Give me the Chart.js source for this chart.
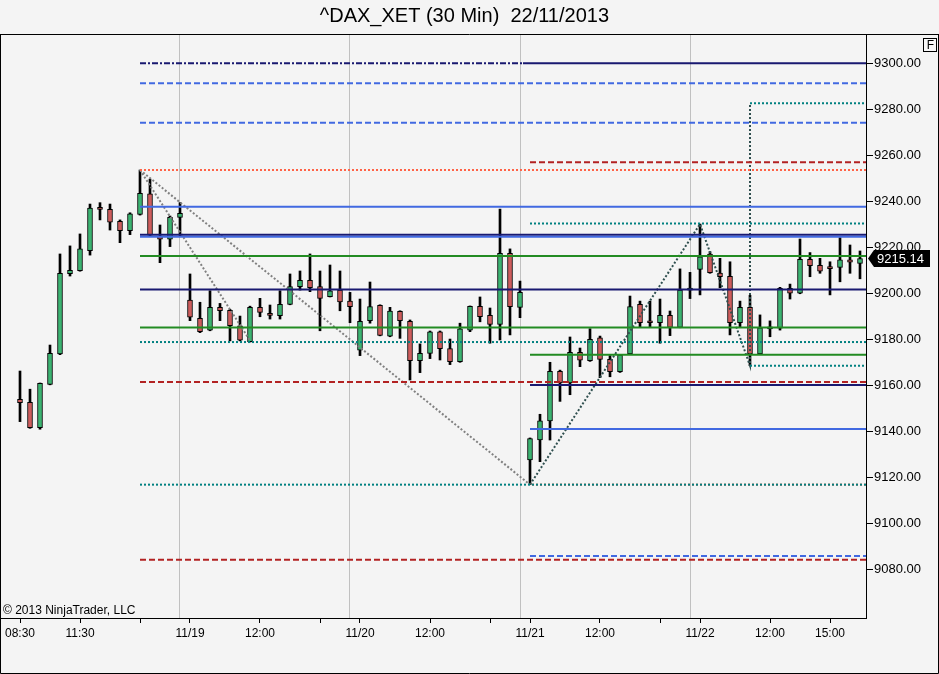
<!DOCTYPE html>
<html lang="en">
<head>
    <meta charset="UTF-8">
    <title>^DAX_XET (30 Min)</title>
    <script src="https://cdn.jsdelivr.net/npm/chart.js"></script>
    <style>
        html, body {
            margin: 0;
            padding: 0;
            background: #f4f4f4;
        }
        #wrap {
            width: 939px;
            height: 674px;
        }
    </style>
</head>
<body>

<div id="wrap"><canvas id="daxChart" width="939" height="674"></canvas></div>

<script>
    // 30 min bars, 18/11 08:30 -> 22/11 afternoon
    const opens = [
        9153.9, 9152.6, 9141.6, 9160.4, 9173.6, 9208.5, 9209.8, 9218.5, 9237.4, 9236.5,
        9231.3, 9227.2, 9234.3, 9243.2, 9224.9, 9223.5, 9233.0, 9197.0, 9189.1, 9184.0,
        9193.9, 9192.6, 9185.9, 9179.0, 9193.9, 9191.3, 9190.3, 9195.2, 9202.9, 9205.6,
        9202.9, 9198.5, 9201.4, 9196.6, 9175.3, 9188.1, 9194.8, 9181.4, 9192.2, 9187.8,
        9170.7, 9173.9, 9183.2, 9176.0, 9170.3, 9184.0, 9194.3, 9190.4, 9186.5, 9217.4,
        9193.9, 9127.5, 9136.2, 9144.5, 9166.1, 9161.0, 9174.3, 9170.7, 9180.6, 9171.3,
        9165.9, 9173.6, 9195.2, 9187.5, 9187.2, 9190.4, 9185.2, 9201.4, 9210.4, 9217.0,
        9208.8, 9207.4, 9187.2, 9193.9, 9173.6, 9184.5, 9184.8, 9202.2, 9200.0, 9214.8,
        9212.2, 9210.9, 9211.3, 9214.5, 9213.0
    ];
    const highs = [
        9166.2, 9158.3, 9161.0, 9177.5, 9217.1, 9220.6, 9225.8, 9238.8, 9239.4, 9238.8,
        9231.9, 9235.0, 9253.6, 9249.6, 9229.7, 9233.6, 9239.4, 9208.4, 9196.1, 9201.1,
        9195.6, 9193.0, 9190.1, 9194.4, 9197.8, 9194.9, 9201.1, 9208.4, 9209.7, 9217.1,
        9209.7, 9212.3, 9209.7, 9200.4, 9197.5, 9204.9, 9195.0, 9193.9, 9192.4, 9188.4,
        9178.0, 9183.6, 9183.6, 9180.1, 9187.0, 9194.5, 9198.4, 9193.6, 9236.6, 9219.3,
        9205.3, 9137.1, 9147.4, 9170.0, 9166.6, 9181.0, 9176.2, 9184.6, 9181.4, 9172.9,
        9173.4, 9198.8, 9196.6, 9196.6, 9197.5, 9192.3, 9210.6, 9209.1, 9230.1, 9218.1,
        9215.2, 9213.7, 9196.6, 9199.1, 9190.6, 9188.0, 9202.6, 9204.0, 9223.6, 9217.7,
        9215.2, 9213.7, 9224.2, 9221.0, 9218.4
    ];
    const lows = [
        9144.2, 9141.3, 9140.9, 9160.2, 9173.3, 9207.5, 9209.6, 9216.6, 9231.9, 9227.5,
        9222.0, 9225.5, 9234.0, 9225.0, 9213.3, 9220.3, 9224.9, 9188.1, 9182.9, 9183.7,
        9188.1, 9179.3, 9179.3, 9178.8, 9189.8, 9188.8, 9188.8, 9195.0, 9201.4, 9200.7,
        9183.7, 9198.4, 9192.4, 9187.2, 9172.9, 9187.0, 9181.5, 9181.1, 9180.4, 9162.3,
        9165.5, 9171.6, 9171.0, 9169.0, 9170.0, 9183.3, 9187.6, 9178.3, 9179.7, 9181.9,
        9189.4, 9116.8, 9126.8, 9136.2, 9153.0, 9155.9, 9168.1, 9170.4, 9163.3, 9163.7,
        9165.6, 9173.5, 9185.5, 9185.5, 9178.3, 9181.6, 9185.0, 9197.7, 9199.3, 9208.7,
        9202.4, 9181.9, 9185.5, 9168.5, 9173.5, 9181.1, 9184.0, 9197.5, 9199.8, 9207.2,
        9208.7, 9199.3, 9205.0, 9208.7, 9206.3
    ];
    const closes = [
        9152.4, 9141.6, 9160.9, 9173.9, 9208.7, 9210.0, 9219.3, 9237.1, 9236.5, 9230.9,
        9227.2, 9234.5, 9243.5, 9225.3, 9223.5, 9233.0, 9234.8, 9189.6, 9183.3, 9193.9,
        9192.4, 9185.9, 9179.6, 9193.9, 9191.7, 9190.4, 9195.2, 9202.9, 9205.6, 9202.4,
        9197.8, 9201.1, 9196.3, 9194.2, 9187.8, 9194.2, 9181.7, 9192.3, 9188.1, 9170.7,
        9173.9, 9183.2, 9175.9, 9170.3, 9184.6, 9194.3, 9189.8, 9186.5, 9217.4, 9194.2,
        9200.4, 9136.8, 9144.5, 9166.1, 9161.0, 9174.3, 9170.9, 9180.0, 9171.3, 9165.9,
        9173.2, 9194.2, 9187.2, 9187.2, 9190.4, 9185.2, 9201.4, 9201.6, 9215.9, 9209.0,
        9207.2, 9187.2, 9193.9, 9173.6, 9185.0, 9184.8, 9202.2, 9200.0, 9214.8, 9212.0,
        9209.6, 9210.7, 9214.5, 9213.5, 9215.14
    ];

    // bottom axis: bar index -> label ('' = tick mark only)
    const timeTickIdx = [0, 6, 12, 17, 24, 30, 34, 41, 47, 51, 58, 64, 68, 75, 81];
    const timeTickText = ['08:30', '11:30', '', '11/19', '12:00', '', '11/20', '12:00', '', '11/21', '12:00', '', '11/22', '12:00', '15:00'];
    const dayBreakIdx = [16, 33, 50, 67];
    const priceTicks = [9080, 9100, 9120, 9140, 9160, 9180, 9200, 9220, 9240, 9260, 9280, 9300];

    // horizontal drawing objects: price, first bar, last bar (null = right edge)
    const levelValues = [9300, 9300, 9291.3, 9282.6, 9274.2, 9257.0, 9253.6, 9237.6, 9230.3, 9224.6, 9225.5, 9216.2,
                         9201.7, 9185.1, 9178.8, 9173.3, 9168.5, 9161.4, 9160.1, 9141.0, 9116.8, 9116.8, 9085.8, 9084.2];
    const levelFrom = [12, 50.3, 12, 73, 12, 51, 12, 12, 51, 12, 12, 12,
                       12, 12, 12, 51, 73, 12, 51, 51, 12, 51, 51, 12];
    const levelTo = [50.3, null, null, null, null, null, null, null, null, null, null, null,
                     null, null, null, null, null, null, null, null, null, null, null, null];

    // swing lines
    const swingX = [51, 68, 73, 73];
    const swingY = [9116.8, 9230.1, 9168.5, 9282.6];
    const fallX = [12, 51];
    const fallY = [9253.6, 9116.8];
    const dropX = [12, 23];
    const dropY = [9253.6, 9179.5];

    // ---- styles ----
    const NAVY = '#191970', BLUE = '#4169e1', RED = '#b22222', SALMON = '#ff6347',
          TEAL = '#008080', GREEN = '#228b22', SLATE = '#2f4f4f';
    const SOLID = [], DASH = [6, 3], DOT = [2, 2], DASHDOT = [6, 2, 2, 2];
    const levelStyles = [
        [NAVY, DASHDOT, 2], [NAVY, SOLID, 2], [BLUE, DASH, 2], [TEAL, DOT, 2], [BLUE, DASH, 2],
        [RED, DASH, 2], [SALMON, DOT, 2], [BLUE, SOLID, 2], [TEAL, DOT, 2], [BLUE, SOLID, 2],
        [NAVY, SOLID, 2], [GREEN, SOLID, 2], [NAVY, SOLID, 2], [GREEN, SOLID, 2], [TEAL, DOT, 2],
        [GREEN, SOLID, 2], [TEAL, DOT, 2], [RED, DASH, 2], [NAVY, SOLID, 2], [BLUE, SOLID, 2],
        [TEAL, DOT, 2], [SALMON, DOT, 2, 2], [BLUE, DASH, 2], [RED, DASH, 2]
    ];

    const X_MIN = -1.9, X_MAX = 84.6;
    const Y_MIN = 9058.82, Y_MAX = 9312.3;

    const idx = closes.map((c, i) => i);

    const wicks = {
        type: 'bar',
        order: 2,
        data: idx.map(i => ({ x: i, y: [lows[i], highs[i]] })),
        backgroundColor: '#000',
        borderWidth: 0,
        barThickness: 2,
        grouped: false
    };

    const bodies = {
        type: 'bar',
        order: 1,
        data: idx.map(i => ({ x: i, y: [opens[i], closes[i]] })),
        backgroundColor: idx.map(i => closes[i] >= opens[i] ? '#3cb371' : '#cd5c5c'),
        borderColor: '#000',
        borderWidth: 1,
        borderSkipped: false,
        barThickness: 5,
        minBarLength: 2,
        grouped: false
    };

    function lineSet(xs, ys, color, dash, width, dashOffset) {
        return {
            type: 'line',
            order: 0,
            data: xs.map((x, k) => ({ x: x, y: ys[k] })),
            borderColor: color,
            borderDash: dash,
            borderDashOffset: dashOffset || 0,
            borderWidth: width,
            pointRadius: 0,
            fill: false,
            tension: 0
        };
    }

    const levelSets = levelValues.map((v, k) => {
        const st = levelStyles[k];
        const to = levelTo[k] === null ? X_MAX : levelTo[k];
        return lineSet([levelFrom[k], to], [v, v], st[0], st[1], st[2], st[3]);
    });

    const swingSets = [
        lineSet(fallX, fallY, '#808080', DOT, 2),
        lineSet(dropX, dropY, '#808080', DOT, 2),
        lineSet(swingX, swingY, SLATE, DOT, 2)
    ];

    // background, outer frame, copyright, F box
    const frame = {
        id: 'frame',
        beforeDraw(chart) {
            const ctx = chart.ctx;
            ctx.save();
            ctx.fillStyle = '#f4f4f4';
            ctx.fillRect(0, 0, chart.width, chart.height);
            ctx.restore();
        },
        afterDraw(chart) {
            const ctx = chart.ctx;
            const top = chart.chartArea.top - 0.5;
            ctx.save();
            ctx.strokeStyle = '#000';
            ctx.lineWidth = 1;
            ctx.beginPath();
            ctx.moveTo(0, top);
            ctx.lineTo(chart.width, top);
            ctx.moveTo(0.5, top);
            ctx.lineTo(0.5, chart.height - 0.5);
            ctx.lineTo(chart.width - 0.5, chart.height - 0.5);
            ctx.lineTo(chart.width - 0.5, top);
            ctx.stroke();

            ctx.fillStyle = '#f8f8f8';
            ctx.fillRect(923, 38, 14, 14);
            ctx.strokeRect(923.5, 38.5, 13, 13);
            ctx.fillStyle = '#000';
            ctx.font = '12px Arial, "Liberation Sans", sans-serif';
            ctx.textAlign = 'center';
            ctx.textBaseline = 'middle';
            ctx.fillText('F', 930.5, 45.5);

            ctx.textAlign = 'left';
            ctx.textBaseline = 'alphabetic';
            ctx.fillText('\u00a9 2013 NinjaTrader, LLC', 3, 614);
            ctx.restore();
        }
    };

    // last price flag on the price axis
    const lastPriceTag = {
        id: 'lastPriceTag',
        afterDraw(chart) {
            const ctx = chart.ctx;
            const last = closes[closes.length - 1];
            const y = Math.round(chart.scales.y.getPixelForValue(last)) + 0.5;
            const x0 = chart.chartArea.right + 2;
            ctx.save();
            ctx.fillStyle = '#000';
            ctx.beginPath();
            ctx.moveTo(x0, y);
            ctx.lineTo(x0 + 6, y - 8.5);
            ctx.lineTo(x0 + 62, y - 8.5);
            ctx.lineTo(x0 + 62, y + 8.5);
            ctx.lineTo(x0 + 6, y + 8.5);
            ctx.closePath();
            ctx.fill();
            ctx.fillStyle = '#fff';
            ctx.font = '13px Arial, "Liberation Sans", sans-serif';
            ctx.textAlign = 'left';
            ctx.textBaseline = 'middle';
            ctx.fillText(last.toFixed(2), x0 + 9, y + 0.5);
            ctx.restore();
        }
    };

    Chart.defaults.font.family = 'Arial, "Liberation Sans", sans-serif';
    Chart.defaults.color = '#000';

    const ctx1 = document.getElementById('daxChart').getContext('2d');
    new Chart(ctx1, {
        type: 'bar',
        data: {
            datasets: [...levelSets, ...swingSets, bodies, wicks]
        },
        plugins: [frame, lastPriceTag],
        options: {
            responsive: false,
            animation: false,
            devicePixelRatio: 1,
            events: [],
            layout: { padding: { left: 1, right: 0, top: 0, bottom: 0 } },
            plugins: {
                legend: { display: false },
                tooltip: { enabled: false },
                title: {
                    display: true,
                    text: '^DAX_XET (30 Min)  22/11/2013  ',
                    color: '#000',
                    font: { size: 20, weight: 'normal', lineHeight: 1.2 },
                    padding: { top: 4, bottom: 7 }
                }
            },
            scales: {
                x: {
                    type: 'linear',
                    min: X_MIN,
                    max: X_MAX,
                    offset: false,
                    afterBuildTicks: scale => {
                        scale.ticks = [...timeTickIdx, ...dayBreakIdx].sort((a, b) => a - b).map(v => ({ value: v }));
                    },
                    afterFit: scale => { scale.height = 56; },
                    ticks: {
                        autoSkip: false,
                        maxRotation: 0,
                        minRotation: 0,
                        padding: 3,
                        font: { size: 12 },
                        color: '#000',
                        callback: v => {
                            const k = timeTickIdx.indexOf(v);
                            return k >= 0 ? timeTickText[k] : '';
                        }
                    },
                    grid: {
                        offset: false,
                        drawTicks: true,
                        tickLength: 5,
                        lineWidth: 1,
                        color: c => (c.tick && dayBreakIdx.includes(c.tick.value)) ? '#c0c0c0' : 'rgba(0,0,0,0)',
                        tickColor: c => (c.tick && dayBreakIdx.includes(c.tick.value)) ? 'rgba(0,0,0,0)' : '#000'
                    },
                    border: { display: true, color: '#000', width: 1 }
                },
                y: {
                    type: 'linear',
                    position: 'right',
                    min: Y_MIN,
                    max: Y_MAX,
                    beginAtZero: false,
                    afterBuildTicks: scale => {
                        scale.ticks = priceTicks.map(v => ({ value: v }));
                    },
                    afterFit: scale => { scale.width = 73; },
                    ticks: {
                        padding: 1,
                        font: { size: 13 },
                        color: '#000',
                        callback: v => v.toFixed(2)
                    },
                    grid: {
                        drawOnChartArea: false,
                        drawTicks: true,
                        tickLength: 7,
                        tickColor: '#000'
                    },
                    border: { display: true, color: '#000', width: 1 }
                }
            }
        }
    });
</script>

</body>
</html>
